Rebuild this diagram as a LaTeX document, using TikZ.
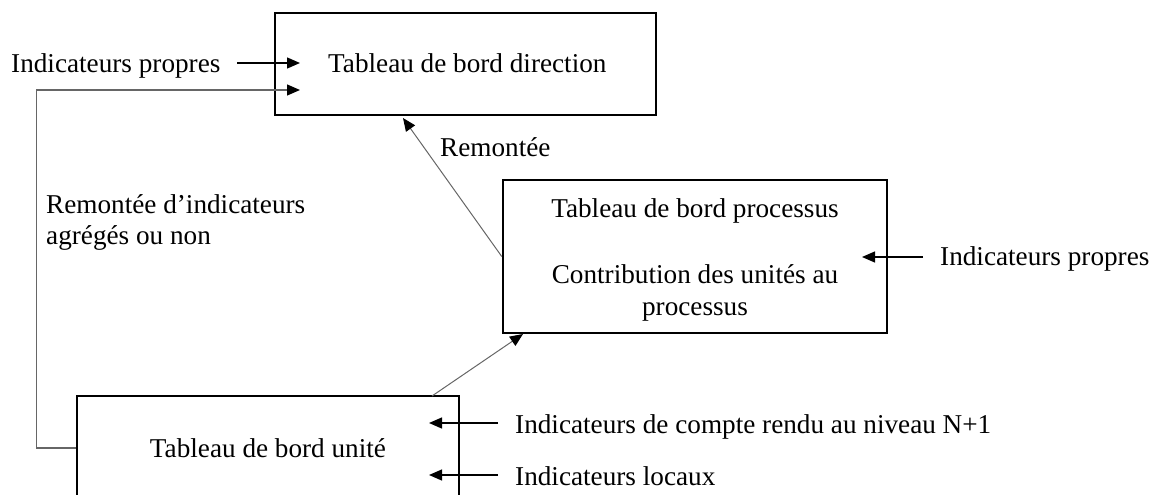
\documentclass[tikz,border=0pt]{standalone}
\usepackage{fontspec}
\setmainfont{Liberation Serif}
\usetikzlibrary{arrows.meta,calc}
\begin{document}
\begin{tikzpicture}[x=1pt,y=-1pt,
  box/.style={draw=black,line width=2.5pt,inner sep=0pt},
  txt/.style={inner sep=0pt,font=\fontsize{27.2}{32}\selectfont},
  arr/.style={draw=black,line width=1.3pt,-{Triangle[length=13pt,width=11pt]}},
  garr/.style={draw=black!60,line width=1.2pt,-{Triangle[length=13pt,width=11pt,color=black]}},
]
\useasboundingbox (0,0) rectangle (1156,495);
\clip (0,0) rectangle (1156,495);

% boxes
\node[box,minimum width=381pt,minimum height=102pt] (dir) at (465.5,64) {};
\node[box,minimum width=384pt,minimum height=153pt] (proc) at (695,256.5) {};
\node[box,minimum width=382pt,minimum height=104pt] (uni) at (268,448) {};

% box texts
\node[txt,anchor=base west] (tdir) at (328,72) {Tableau de bord direction};
\node[txt,anchor=base] (tproc1) at (695,217) {Tableau de bord processus};
\node[txt,anchor=base] (tproc2) at (695,283) {Contribution des unités au};
\node[txt,anchor=base] (tproc3) at (695,315) {processus};
\node[txt,anchor=base] (tuni) at (268,457) {Tableau de bord unité};

% outside labels
\node[txt,anchor=base west] (ipdir) at (11,72) {Indicateurs propres};
\node[txt,anchor=base west] (ipproc) at (940,265) {Indicateurs propres};
\node[txt,anchor=base west] (icr) at (515,433) {Indicateurs de compte rendu au niveau N+1};
\node[txt,anchor=base west] (iloc) at (515,485) {Indicateurs locaux};
\node[txt,anchor=base west] (lrem) at (440,156) {Remontée};
\node[txt,anchor=base west] (lagg1) at (46,213) {Remontée d’indicateurs};
\node[txt,anchor=base west] (lagg2) at (46,244) {agrégés ou non};

% connector coordinates
\coordinate (a1s) at (237,63);
\coordinate (a1e) at (300,63);
\coordinate (a2e) at (300,90);
\coordinate (a3s) at (923,257);
\coordinate (a3e) at (862,257);
\coordinate (a4s) at (498,423);
\coordinate (a4e) at (429,423);
\coordinate (a5s) at (498,475);
\coordinate (a5e) at (429,475);
\coordinate (remtip) at (403,118);
\coordinate (unitop) at (432,396);
\coordinate (proctip) at (523,334);

% connectors
\draw[arr] (a1s) -- (a1e);
\draw[garr] (uni.west) -- ++(-39,0) |- (a2e);
\draw[arr] (a3s) -- (a3e);
\draw[arr] (a4s) -- (a4e);
\draw[arr] (a5s) -- (a5e);
\draw[garr,line width=1pt] (proc.west) -- (remtip);
\draw[garr,line width=1pt] (unitop) -- (proctip);
\end{tikzpicture}
\end{document}
